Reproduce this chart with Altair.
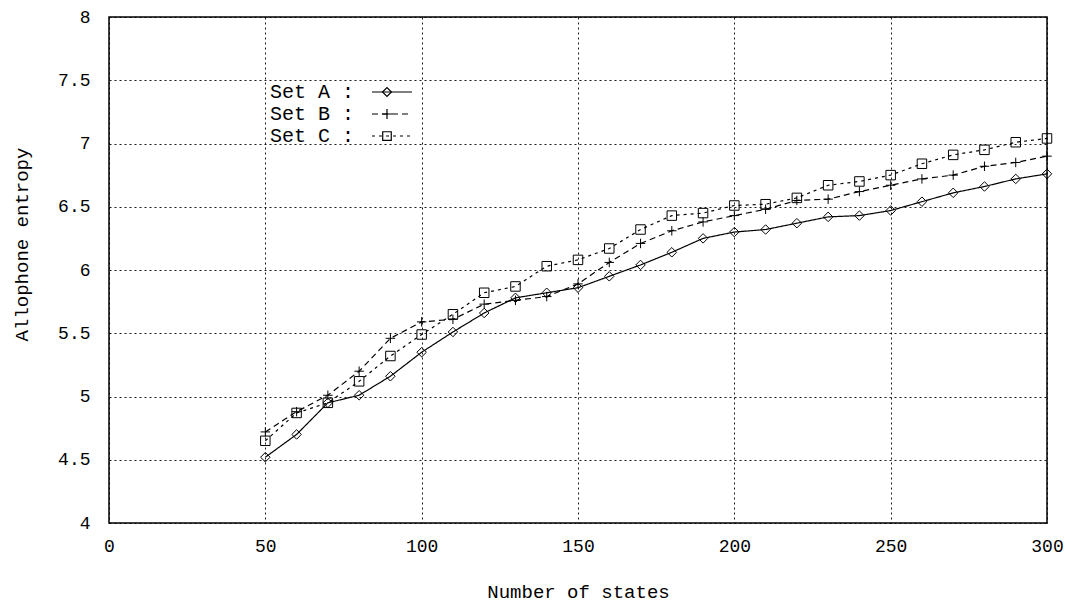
import altair as alt
import pandas as pd

# ---- data ----
states = [50, 60, 70, 80, 90, 100, 110, 120, 130, 140, 150, 160, 170,
          180, 190, 200, 210, 220, 230, 240, 250, 260, 270, 280, 290, 300]
set_a = [4.52, 4.70, 4.95, 5.01, 5.16, 5.35, 5.51, 5.66, 5.78, 5.82, 5.86, 5.95, 6.04,
         6.14, 6.25, 6.30, 6.32, 6.37, 6.42, 6.43, 6.47, 6.54, 6.61, 6.66, 6.72, 6.76]
set_b = [4.72, 4.88, 5.01, 5.20, 5.46, 5.59, 5.61, 5.73, 5.76, 5.79, 5.89, 6.06, 6.21,
         6.31, 6.38, 6.43, 6.48, 6.55, 6.56, 6.62, 6.67, 6.72, 6.75, 6.82, 6.85, 6.90]
set_c = [4.65, 4.87, 4.95, 5.12, 5.32, 5.49, 5.65, 5.82, 5.87, 6.03, 6.08, 6.17, 6.32,
         6.43, 6.45, 6.51, 6.52, 6.57, 6.67, 6.70, 6.75, 6.84, 6.91, 6.95, 7.01, 7.04]
series_names = ["Set A", "Set B", "Set C"]
x_ticks = [0, 50, 100, 150, 200, 250, 300]
y_ticks = [4, 4.5, 5, 5.5, 6, 6.5, 7, 7.5, 8]

rows = []
for name, vals in zip(series_names, [set_a, set_b, set_c]):
    for s, v in zip(states, vals):
        rows.append({"states": s, "entropy": v, "set": name})
df = pd.DataFrame(rows)

FONT = "Liberation Mono"

dash_range = [[1, 0], [6, 4], [3, 4]]
marker_range = ["diamond", "M-1,0L1,0M0,-1L0,1", "square"]
# legend sample glyphs (line + marker), drawn to the right of the label
legend_line = "M11.84,0L16.05,0"
legend_marker_range = [
    "M12.95,0L13.42,-0.47L13.89,0L13.42,0.47Z",
    "M12.89,0L13.95,0M13.42,-0.53L13.42,0.53",
    "M12.97,-0.45L13.87,-0.45L13.87,0.45L12.97,0.45Z",
]
label_expr = "datum.label + ' :'"

x_enc = alt.X("states:Q",
              scale=alt.Scale(domain=[0, 300], nice=False, zero=False),
              axis=alt.Axis(values=x_ticks, title="Number of states",
                            labelPadding=14, titleY=68, titleBaseline="middle",
                            labelFlush=False))
y_enc = alt.Y("entropy:Q",
              scale=alt.Scale(domain=[4, 8], nice=False, zero=False),
              axis=alt.Axis(values=y_ticks, title="Allophone entropy", format=".1~f",
                            labelPadding=19, titleX=-88, titleY=227,
                            titleBaseline="middle", titleAngle=-90,
                            labelFlush=False))

common_legend = dict(orient="none", legendX=140, legendY=64.5, title=None,
                     symbolSize=361, symbolStrokeWidth=1.2,
                     symbolStrokeColor="black", symbolFillColor="transparent",
                     labelFont=FONT, labelFontSize=20, labelColor="black",
                     labelOffset=0, symbolOffset=0, rowPadding=1,
                     padding=0, labelExpr=label_expr, labelLimit=300)

lines = alt.Chart(df).mark_line(color="black", strokeWidth=1.2).encode(
    x=x_enc, y=y_enc,
    strokeDash=alt.StrokeDash(
        "set:N",
        scale=alt.Scale(domain=series_names, range=dash_range),
        legend=alt.Legend(symbolType=legend_line, labelOpacity=0, **common_legend)),
)

points = alt.Chart(df).mark_point(filled=False, color="black", size=90,
                                  strokeWidth=1, opacity=1).encode(
    x=x_enc, y=y_enc,
    shape=alt.Shape("set:N",
                    scale=alt.Scale(domain=series_names, range=marker_range),
                    legend=None),
)

legend_marks = alt.Chart(df).transform_filter("false").mark_point(
    filled=False, color="black", strokeWidth=1, opacity=1).encode(
    x=x_enc, y=y_enc,
    shape=alt.Shape("set:N",
                    scale=alt.Scale(domain=series_names, range=legend_marker_range),
                    legend=alt.Legend(**common_legend)),
)

chart = alt.layer(lines, points, legend_marks).resolve_scale(
    shape="independent"
).properties(
    width=938, height=506,
    padding={"left": 109, "top": 17, "right": 26, "bottom": 80},
    autosize=alt.AutoSizeParams(type="none"),
    background="white",
).configure_view(
    stroke="black", strokeWidth=1.5
).configure_axis(
    labelFont=FONT, titleFont=FONT, labelFontSize=18, titleFontSize=19,
    titleFontWeight="normal", labelColor="black", titleColor="black",
    grid=True, gridColor="black", gridDash=[2, 3], gridOpacity=1, gridWidth=0.9,
    domain=False, ticks=False,
)

chart.save("out.html", embed_options={"renderer": "svg", "actions": False})
